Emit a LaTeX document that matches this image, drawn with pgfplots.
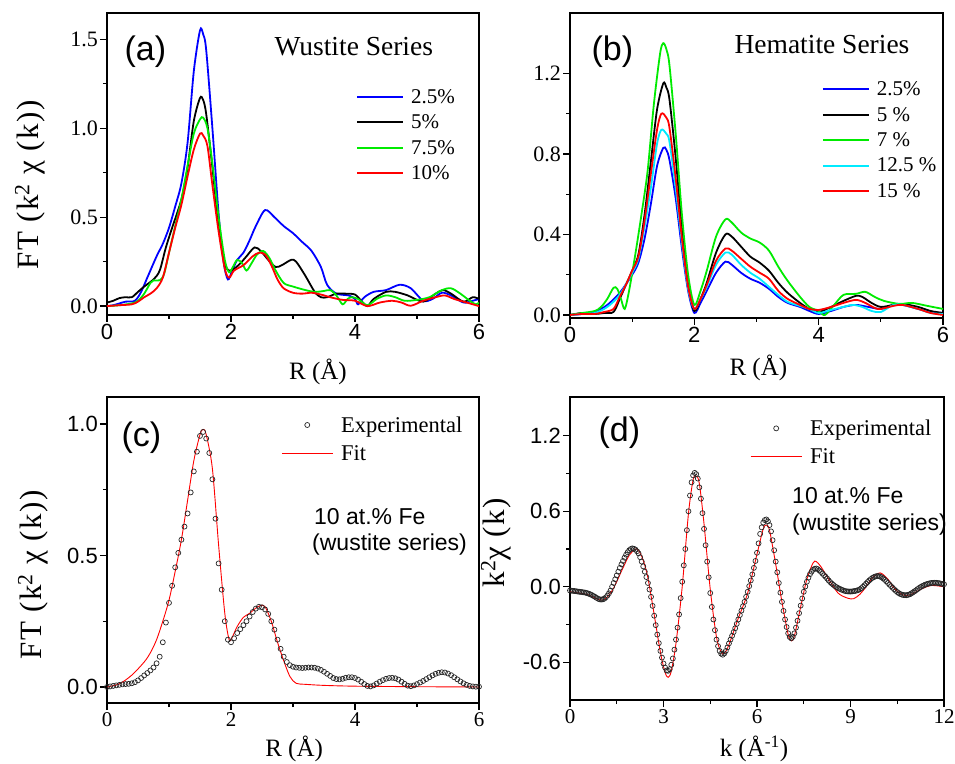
\documentclass[border=0pt]{standalone}
\usepackage{fontspec}
\setmainfont{Liberation Serif}
\setsansfont{Liberation Sans}
\usepackage{pgfplots}
\pgfplotsset{compat=1.18}
\definecolor{cblue}{RGB}{0,0,255}
\definecolor{cgreen}{RGB}{0,235,0}
\definecolor{ccyan}{RGB}{0,235,255}
\definecolor{cred}{RGB}{255,0,0}
\newcommand\fs[1]{\fontsize{#1}{#1}\selectfont}

\pgfplotsset{
  panel/.style={
    scale only axis, anchor=south west,
    tick align=outside, xtick pos=left, ytick pos=left,
    axis line style={line width=2pt},
    major tick length=7pt, minor tick length=4pt,
    tick style={line width=1.3pt,black},
    minor x tick num=1, minor y tick num=1,
    /pgf/number format/assume math mode=true,
    yticklabel style={/pgf/number format/fixed,/pgf/number format/fixed zerofill,/pgf/number format/precision=1,inner sep=2pt},
    xticklabel style={inner sep=2pt},
    ylabel style={anchor=center,font=\fs{31}\rmfamily\addfontfeatures{LetterSpace=5}},
    xlabel style={anchor=center,font=\fs{25}\rmfamily},
    every axis plot/.append style={smooth,tension=0.5},
  },
  linelegend/.style={
    legend style={draw=none,fill=none,anchor=north west,font=\fs{21}\rmfamily,
      legend cell align=left,row sep=6pt,
      /tikz/every odd column/.append style={column sep=5pt}},
    legend image code/.code={\draw[##1,line width=1.9pt] (0pt,0pt) -- (46pt,0pt);}},
  fitlegend/.style={
    legend style={draw=none,fill=none,anchor=north west,font=\fs{22.5}\rmfamily,
      legend cell align=left,row sep=7.6pt,
      /tikz/every odd column/.append style={column sep=6pt}},
    legend image code/.code={\draw[mark repeat=2,mark phase=2,##1] plot coordinates {(0pt,0pt) (25.5pt,0pt) (51pt,0pt)};}},
  curvew/.style={line width=1.8pt},
  expmarks/.style={only marks,mark=o,mark size=2.5pt,black!85,mark options={line width=0.7pt}},
}

\begin{document}
\begin{tikzpicture}[x=1pt,y=1pt]
\useasboundingbox (0,0) rectangle (955,763);

% (a) wustite series
\begin{axis}[panel, at={(107pt,448pt)}, width=372pt, height=302pt,
  xmin=0, xmax=6, ymin=-0.05, ymax=1.648,
  xtick={0,2,4,6}, ytick={0,0.5,1,1.5},
  xticklabel style={font=\fs{22}\sffamily}, yticklabel style={font=\fs{22}\rmfamily},
  xlabel={R (Å)}, ylabel={FT (k\textsuperscript{2} χ (k))},
  xlabel style={at={(axis description cs:0.567,-0.19)}},
  ylabel style={at={(axis description cs:-0.207,0.43)}},
  linelegend, legend style={at={(axis cs:3.97,1.243)}}]
\addplot[cblue,curvew] coordinates {(0,0.0) (0.1,0.005) (0.2,0.015) (0.3,0.025) (0.45,0.03) (0.55,0.08) (0.65,0.16) (0.8,0.28) (0.9,0.35) (1.0,0.44) (1.1,0.56) (1.2,0.69) (1.3,0.92) (1.4,1.32) (1.5,1.55) (1.55,1.53) (1.6,1.44) (1.7,1.0) (1.8,0.52) (1.88,0.25) (1.95,0.15) (2.02,0.2) (2.1,0.26) (2.2,0.3) (2.3,0.37) (2.4,0.45) (2.55,0.54) (2.7,0.5) (2.85,0.45) (3.0,0.41) (3.15,0.36) (3.3,0.31) (3.45,0.22) (3.55,0.12) (3.7,0.07) (3.9,0.06) (4.0,0.04) (4.05,0.01) (4.15,0.05) (4.3,0.08) (4.5,0.09) (4.72,0.12) (4.9,0.1) (5.1,0.03) (5.25,0.04) (5.4,0.075) (5.55,0.06) (5.75,0.02) (5.9,0.03) (6.0,0.04)};
\addlegendentry{2.5\%}
\addplot[black,curvew] coordinates {(0,0.02) (0.1,0.03) (0.2,0.045) (0.3,0.05) (0.4,0.05) (0.5,0.08) (0.6,0.11) (0.75,0.15) (0.85,0.2) (0.95,0.33) (1.05,0.44) (1.2,0.6) (1.3,0.78) (1.4,1.04) (1.5,1.17) (1.55,1.16) (1.6,1.08) (1.7,0.78) (1.8,0.45) (1.9,0.24) (1.97,0.2) (2.05,0.21) (2.15,0.24) (2.25,0.28) (2.38,0.33) (2.48,0.31) (2.6,0.26) (2.72,0.22) (2.82,0.23) (2.97,0.26) (3.05,0.25) (3.2,0.17) (3.35,0.08) (3.45,0.05) (3.55,0.05) (3.7,0.07) (3.85,0.07) (4.0,0.065) (4.1,0.03) (4.2,0.0) (4.3,0.04) (4.5,0.08) (4.65,0.08) (4.85,0.06) (5.1,0.025) (5.3,0.07) (5.42,0.09) (5.55,0.07) (5.75,0.025) (5.9,0.05) (6.0,0.04)};
\addlegendentry{5\%}
\addplot[cgreen,curvew] coordinates {(0,0.0) (0.2,0.005) (0.4,0.015) (0.5,0.03) (0.6,0.07) (0.7,0.13) (0.75,0.145) (0.85,0.145) (0.92,0.18) (1.0,0.3) (1.1,0.45) (1.2,0.6) (1.3,0.79) (1.4,0.97) (1.5,1.05) (1.55,1.06) (1.62,1.0) (1.7,0.8) (1.8,0.5) (1.9,0.26) (1.97,0.19) (2.03,0.22) (2.1,0.26) (2.18,0.24) (2.25,0.2) (2.33,0.24) (2.42,0.29) (2.52,0.31) (2.62,0.27) (2.72,0.2) (2.85,0.13) (3.0,0.11) (3.2,0.09) (3.35,0.08) (3.5,0.085) (3.6,0.09) (3.7,0.06) (3.8,0.01) (3.88,0.04) (3.95,0.05) (4.05,0.04) (4.2,0.005) (4.35,0.04) (4.5,0.06) (4.65,0.05) (4.8,0.03) (5.0,0.035) (5.2,0.05) (5.4,0.09) (5.55,0.1) (5.7,0.07) (5.85,0.03) (5.95,0.01) (6.0,0.02)};
\addlegendentry{7.5\%}
\addplot[cred,curvew] coordinates {(0,0.0) (0.2,0.005) (0.4,0.01) (0.5,0.025) (0.6,0.05) (0.7,0.07) (0.8,0.1) (0.9,0.16) (1.0,0.3) (1.1,0.44) (1.2,0.57) (1.3,0.73) (1.4,0.88) (1.5,0.97) (1.55,0.96) (1.62,0.9) (1.7,0.68) (1.8,0.42) (1.9,0.21) (1.97,0.16) (2.05,0.2) (2.2,0.23) (2.35,0.28) (2.45,0.3) (2.55,0.29) (2.65,0.23) (2.75,0.15) (2.85,0.1) (3.0,0.075) (3.15,0.07) (3.3,0.075) (3.45,0.065) (3.6,0.05) (3.8,0.035) (4.0,0.03) (4.2,0.0) (4.4,0.02) (4.6,0.03) (4.75,0.02) (4.9,0.002) (5.1,0.03) (5.3,0.05) (5.45,0.06) (5.6,0.04) (5.8,0.02) (6.0,0.0)};
\addlegendentry{10\%}
\end{axis}

% (b) hematite series
\begin{axis}[panel, at={(570pt,445pt)}, width=373pt, height=305pt,
  xmin=0, xmax=6, ymin=-0.015, ymax=1.5,
  xtick={0,2,4,6}, ytick={0,0.4,0.8,1.2},
  xticklabel style={font=\fs{22}\sffamily}, yticklabel style={font=\fs{22}\rmfamily},
  xlabel={R (Å)},
  xlabel style={at={(axis description cs:0.505,-0.165)}},
  linelegend, legend style={at={(axis cs:4.0,1.18)}}]
\addplot[cblue,curvew] coordinates {(0,0.0) (0.2,0.005) (0.4,0.015) (0.6,0.05) (0.8,0.11) (1.0,0.2) (1.1,0.26) (1.2,0.38) (1.3,0.55) (1.4,0.74) (1.5,0.83) (1.55,0.82) (1.6,0.77) (1.7,0.58) (1.8,0.33) (1.9,0.12) (2.0,0.01) (2.1,0.06) (2.2,0.12) (2.35,0.21) (2.5,0.265) (2.6,0.25) (2.75,0.21) (2.9,0.18) (3.05,0.16) (3.2,0.13) (3.35,0.09) (3.5,0.06) (3.7,0.04) (3.85,0.02) (4.0,0.005) (4.2,0.02) (4.4,0.04) (4.6,0.05) (4.8,0.04) (5.0,0.03) (5.2,0.05) (5.35,0.05) (5.6,0.03) (5.8,0.015) (6.0,0.01)};
\addlegendentry{2.5\%}
\addplot[black,curvew] coordinates {(0,0.0) (0.2,0.01) (0.4,0.005) (0.55,0.01) (0.7,0.015) (0.8,0.08) (0.9,0.15) (1.0,0.22) (1.1,0.3) (1.2,0.5) (1.3,0.76) (1.4,1.02) (1.5,1.15) (1.55,1.13) (1.6,1.07) (1.7,0.78) (1.8,0.43) (1.9,0.15) (2.0,0.02) (2.1,0.08) (2.2,0.16) (2.35,0.31) (2.5,0.4) (2.6,0.39) (2.75,0.34) (2.9,0.29) (3.05,0.26) (3.2,0.22) (3.35,0.16) (3.5,0.11) (3.7,0.06) (3.85,0.03) (4.0,0.015) (4.2,0.04) (4.4,0.07) (4.6,0.095) (4.7,0.09) (4.85,0.06) (5.0,0.04) (5.2,0.05) (5.35,0.055) (5.6,0.04) (5.8,0.02) (6.0,0.01)};
\addlegendentry{5 \%}
\addplot[cgreen,curvew] coordinates {(0,0.0) (0.2,0.01) (0.4,0.02) (0.5,0.04) (0.6,0.08) (0.7,0.135) (0.76,0.13) (0.82,0.08) (0.88,0.03) (0.95,0.12) (1.05,0.3) (1.15,0.5) (1.25,0.72) (1.35,1.05) (1.45,1.3) (1.5,1.35) (1.55,1.32) (1.6,1.24) (1.7,0.9) (1.8,0.5) (1.9,0.2) (2.0,0.05) (2.1,0.12) (2.2,0.22) (2.35,0.39) (2.5,0.475) (2.6,0.46) (2.75,0.41) (2.9,0.38) (3.05,0.36) (3.2,0.32) (3.35,0.24) (3.5,0.17) (3.7,0.09) (3.85,0.04) (4.0,0.02) (4.1,0.0) (4.25,0.05) (4.4,0.1) (4.6,0.105) (4.75,0.115) (4.9,0.09) (5.05,0.07) (5.3,0.055) (5.5,0.06) (5.75,0.045) (6.0,0.03)};
\addlegendentry{7 \%}
\addplot[ccyan,curvew] coordinates {(0,0.0) (0.2,0.005) (0.4,0.01) (0.6,0.04) (0.8,0.1) (1.0,0.21) (1.1,0.28) (1.2,0.44) (1.3,0.63) (1.4,0.85) (1.47,0.92) (1.55,0.9) (1.6,0.86) (1.7,0.63) (1.8,0.36) (1.9,0.13) (2.0,0.03) (2.1,0.08) (2.2,0.14) (2.35,0.25) (2.5,0.31) (2.6,0.3) (2.75,0.25) (2.9,0.21) (3.05,0.18) (3.2,0.14) (3.35,0.1) (3.5,0.065) (3.7,0.045) (3.85,0.03) (4.0,0.01) (4.2,0.025) (4.4,0.04) (4.55,0.05) (4.7,0.04) (4.85,0.02) (5.0,0.015) (5.2,0.05) (5.35,0.05) (5.6,0.03) (5.8,0.01) (6.0,0.005)};
\addlegendentry{12.5 \%}
\addplot[cred,curvew] coordinates {(0,0.0) (0.2,0.005) (0.4,0.005) (0.55,0.015) (0.7,0.03) (0.8,0.09) (0.9,0.15) (1.0,0.22) (1.1,0.29) (1.2,0.47) (1.3,0.7) (1.4,0.92) (1.47,1.0) (1.55,0.98) (1.6,0.93) (1.7,0.68) (1.8,0.38) (1.9,0.14) (2.0,0.03) (2.1,0.08) (2.2,0.15) (2.35,0.27) (2.5,0.33) (2.6,0.32) (2.75,0.28) (2.9,0.24) (3.05,0.21) (3.2,0.18) (3.35,0.12) (3.5,0.08) (3.7,0.05) (3.85,0.03) (4.0,0.025) (4.2,0.04) (4.4,0.06) (4.6,0.075) (4.75,0.06) (4.9,0.035) (5.0,0.03) (5.2,0.045) (5.35,0.05) (5.6,0.03) (5.8,0.01) (6.0,0.0)};
\addlegendentry{15 \%}
\end{axis}

% (c) FT fit, 10 at.% Fe
\begin{axis}[panel, at={(107pt,60pt)}, width=372pt, height=306pt,
  xmin=0, xmax=6, ymin=-0.061, ymax=1.103,
  xtick={0,2,4,6}, ytick={0,0.5,1},
  xticklabel style={font=\fs{21}\rmfamily}, yticklabel style={font=\fs{22}\sffamily},
  xlabel={R (Å)}, ylabel={FT (k\textsuperscript{2} χ (k))},
  xlabel style={at={(axis description cs:0.503,-0.15)}},
  ylabel style={at={(axis description cs:-0.199,0.418)}},
  fitlegend, legend style={at={(axis cs:2.76,1.045)}}]
\addplot[expmarks] table {
0.00 0.000
0.05 0.002
0.10 0.004
0.15 0.006
0.20 0.008
0.25 0.010
0.30 0.011
0.35 0.012
0.40 0.014
0.45 0.018
0.50 0.025
0.55 0.034
0.60 0.044
0.65 0.053
0.70 0.063
0.75 0.074
0.80 0.090
0.85 0.115
0.90 0.170
0.95 0.245
1.00 0.320
1.05 0.385
1.10 0.455
1.15 0.510
1.20 0.560
1.25 0.610
1.30 0.660
1.35 0.740
1.40 0.820
1.45 0.895
1.50 0.955
1.55 0.970
1.60 0.945
1.65 0.890
1.70 0.790
1.75 0.640
1.80 0.470
1.85 0.370
1.90 0.250
1.95 0.180
2.00 0.170
2.05 0.185
2.10 0.205
2.15 0.220
2.20 0.235
2.25 0.250
2.30 0.268
2.35 0.285
2.40 0.298
2.45 0.305
2.50 0.303
2.55 0.295
2.60 0.278
2.65 0.250
2.70 0.218
2.75 0.180
2.80 0.145
2.85 0.115
2.90 0.095
2.95 0.083
3.00 0.077
3.05 0.074
3.10 0.073
3.15 0.072
3.20 0.073
3.25 0.074
3.30 0.074
3.35 0.073
3.40 0.070
3.45 0.065
3.50 0.058
3.55 0.050
3.60 0.042
3.65 0.034
3.70 0.030
3.75 0.029
3.80 0.031
3.85 0.035
3.90 0.037
3.95 0.037
4.00 0.034
4.05 0.028
4.10 0.020
4.15 0.011
4.20 0.004
4.25 0.002
4.30 0.006
4.35 0.013
4.40 0.020
4.45 0.026
4.50 0.031
4.55 0.034
4.60 0.035
4.65 0.033
4.70 0.028
4.75 0.020
4.80 0.012
4.85 0.005
4.90 0.003
4.95 0.006
5.00 0.011
5.05 0.017
5.10 0.023
5.15 0.030
5.20 0.037
5.25 0.044
5.30 0.050
5.35 0.054
5.40 0.056
5.45 0.055
5.50 0.051
5.55 0.045
5.60 0.037
5.65 0.029
5.70 0.021
5.75 0.014
5.80 0.008
5.85 0.004
5.90 0.002
5.95 0.001
6.00 0.001
};
\addlegendentry{Experimental}
\addplot[cred,line width=0.9pt] coordinates {(0,0.0) (0.2,0.012) (0.4,0.045) (0.6,0.095) (0.7,0.13) (0.8,0.18) (0.9,0.25) (1.0,0.33) (1.1,0.44) (1.2,0.56) (1.3,0.71) (1.4,0.86) (1.5,0.96) (1.55,0.98) (1.6,0.96) (1.7,0.83) (1.8,0.54) (1.9,0.28) (1.97,0.18) (2.02,0.19) (2.1,0.23) (2.2,0.265) (2.3,0.28) (2.4,0.3) (2.48,0.31) (2.55,0.305) (2.65,0.25) (2.75,0.17) (2.85,0.1) (2.95,0.04) (3.05,0.014) (3.2,0.01) (3.5,0.006) (4.0,0.003) (5.0,0.001) (6.0,0.0)};
\addlegendentry{Fit}
\end{axis}

% (d) k-space fit
\begin{axis}[panel, at={(570pt,63pt)}, width=374pt, height=303pt,
  xmin=0, xmax=12, ymin=-0.9, ymax=1.508,
  xtick={0,3,6,9,12}, ytick={-0.6,0,0.6,1.2},
  xticklabel style={font=\fs{21}\rmfamily}, yticklabel style={font=\fs{22}\sffamily},
  xlabel={k (Å\textsuperscript{-1})}, ylabel={k\textsuperscript{2}χ (k)},
  xlabel style={at={(axis description cs:0.492,-0.16)}},
  ylabel style={at={(axis description cs:-0.198,0.52)}},
  fitlegend, legend style={at={(axis cs:5.68,1.36)}}]
\addplot[expmarks] table {
0.00 -0.030
0.05 -0.031
0.10 -0.033
0.15 -0.034
0.20 -0.036
0.25 -0.038
0.30 -0.040
0.35 -0.041
0.40 -0.043
0.45 -0.045
0.50 -0.047
0.55 -0.051
0.60 -0.055
0.65 -0.060
0.70 -0.066
0.75 -0.073
0.80 -0.080
0.85 -0.088
0.90 -0.095
0.95 -0.100
1.00 -0.102
1.05 -0.100
1.10 -0.095
1.15 -0.084
1.20 -0.070
1.25 -0.052
1.30 -0.030
1.35 0.000
1.40 0.030
1.45 0.060
1.50 0.090
1.55 0.120
1.60 0.150
1.65 0.178
1.70 0.205
1.75 0.231
1.80 0.255
1.85 0.274
1.90 0.290
1.95 0.300
2.00 0.305
2.05 0.302
2.10 0.295
2.15 0.282
2.20 0.265
2.25 0.235
2.30 0.200
2.35 0.162
2.40 0.120
2.45 0.077
2.50 0.030
2.55 -0.022
2.60 -0.080
2.65 -0.152
2.70 -0.230
2.75 -0.305
2.80 -0.380
2.85 -0.448
2.90 -0.510
2.95 -0.563
3.00 -0.610
3.05 -0.642
3.10 -0.665
3.15 -0.668
3.20 -0.655
3.25 -0.620
3.30 -0.570
3.35 -0.500
3.40 -0.420
3.45 -0.325
3.50 -0.220
3.55 -0.090
3.60 0.040
3.65 0.170
3.70 0.300
3.75 0.450
3.80 0.600
3.85 0.725
3.90 0.830
3.95 0.885
4.00 0.905
4.05 0.895
4.10 0.860
4.15 0.790
4.20 0.700
4.25 0.585
4.30 0.460
4.35 0.330
4.40 0.200
4.45 0.075
4.50 -0.050
4.55 -0.160
4.60 -0.260
4.65 -0.345
4.70 -0.420
4.75 -0.472
4.80 -0.510
4.85 -0.532
4.90 -0.540
4.95 -0.530
5.00 -0.510
5.05 -0.482
5.10 -0.450
5.15 -0.420
5.20 -0.390
5.25 -0.360
5.30 -0.330
5.35 -0.295
5.40 -0.260
5.45 -0.225
5.50 -0.190
5.55 -0.155
5.60 -0.120
5.65 -0.080
5.70 -0.040
5.75 0.005
5.80 0.050
5.85 0.098
5.90 0.150
5.95 0.205
6.00 0.270
6.05 0.345
6.10 0.420
6.15 0.472
6.20 0.510
6.25 0.530
6.30 0.535
6.35 0.520
6.40 0.490
6.45 0.440
6.50 0.370
6.55 0.290
6.60 0.200
6.65 0.115
6.70 0.030
6.75 -0.047
6.80 -0.120
6.85 -0.192
6.90 -0.260
6.95 -0.320
7.00 -0.370
7.05 -0.400
7.10 -0.410
7.15 -0.398
7.20 -0.370
7.25 -0.325
7.30 -0.270
7.35 -0.210
7.40 -0.150
7.45 -0.093
7.50 -0.040
7.55 0.002
7.60 0.040
7.65 0.072
7.70 0.100
7.75 0.120
7.80 0.135
7.85 0.143
7.90 0.145
7.95 0.140
8.00 0.130
8.05 0.118
8.10 0.105
8.15 0.092
8.20 0.080
8.25 0.065
8.30 0.050
8.35 0.037
8.40 0.025
8.45 0.015
8.50 0.005
8.55 -0.003
8.60 -0.010
8.65 -0.016
8.70 -0.022
8.75 -0.027
8.80 -0.032
8.85 -0.035
8.90 -0.037
8.95 -0.038
9.00 -0.038
9.05 -0.037
9.10 -0.035
9.15 -0.033
9.20 -0.030
9.25 -0.026
9.30 -0.020
9.35 -0.011
9.40 0.000
9.45 0.012
9.50 0.025
9.55 0.038
9.60 0.050
9.65 0.061
9.70 0.070
9.75 0.077
9.80 0.082
9.85 0.085
9.90 0.085
9.95 0.081
10.00 0.075
10.05 0.066
10.10 0.055
10.15 0.043
10.20 0.030
10.25 0.017
10.30 0.005
10.35 -0.008
10.40 -0.020
10.45 -0.032
10.50 -0.042
10.55 -0.051
10.60 -0.058
10.65 -0.063
10.70 -0.066
10.75 -0.067
10.80 -0.067
10.85 -0.064
10.90 -0.060
10.95 -0.053
11.00 -0.045
11.05 -0.037
11.10 -0.028
11.15 -0.019
11.20 -0.010
11.25 -0.002
11.30 0.005
11.35 0.011
11.40 0.017
11.45 0.021
11.50 0.025
11.55 0.028
11.60 0.030
11.65 0.031
11.70 0.032
11.75 0.031
11.80 0.030
11.85 0.028
11.90 0.025
11.95 0.022
12.00 0.020
};
\addlegendentry{Experimental}
\addplot[cred,line width=0.9pt] coordinates {(0,-0.04) (0.3,-0.05) (0.6,-0.065) (0.9,-0.1) (1.05,-0.105) (1.2,-0.08) (1.4,-0.01) (1.7,0.15) (1.9,0.25) (2.1,0.3) (2.2,0.29) (2.35,0.21) (2.5,0.07) (2.7,-0.22) (2.9,-0.52) (3.05,-0.68) (3.15,-0.72) (3.25,-0.67) (3.4,-0.45) (3.6,0.0) (3.8,0.58) (3.95,0.85) (4.05,0.88) (4.15,0.82) (4.3,0.5) (4.5,-0.02) (4.7,-0.4) (4.85,-0.52) (4.95,-0.53) (5.1,-0.46) (5.4,-0.25) (5.7,-0.05) (6.0,0.26) (6.2,0.46) (6.3,0.49) (6.4,0.45) (6.6,0.18) (6.8,-0.12) (7.0,-0.38) (7.1,-0.43) (7.2,-0.39) (7.4,-0.16) (7.6,0.06) (7.8,0.19) (7.9,0.2) (8.05,0.16) (8.3,0.06) (8.6,-0.05) (8.9,-0.09) (9.1,-0.095) (9.3,-0.06) (9.5,0.0) (9.7,0.07) (9.95,0.11) (10.2,0.06) (10.4,-0.01) (10.6,-0.055) (10.8,-0.07) (11.0,-0.055) (11.3,-0.015) (11.6,0.01) (12.0,0.0)};
\addlegendentry{Fit}
\end{axis}

% panel letters and notes
\node[anchor=west,font=\fs{34}\sffamily] at (121,711) {(a)};
\node[anchor=west,font=\fs{34}\sffamily] at (588,711) {(b)};
\node[anchor=west,font=\fs{34}\sffamily] at (118,325) {(c)};
\node[anchor=west,font=\fs{34}\sffamily] at (595,330) {(d)};
\node[anchor=west,font=\fs{27.5}\rmfamily] at (271,716) {Wustite Series};
\node[anchor=west,font=\fs{27.5}\rmfamily] at (731,718) {Hematite Series};
\node[anchor=west,font=\fs{23}\sffamily,inner sep=0pt] at (314,246) {10 at.\% Fe};
\node[anchor=west,font=\fs{23}\sffamily,inner sep=0pt] at (312,218) {(wustite series)};
\node[anchor=west,font=\fs{23}\sffamily,inner sep=0pt] at (792,267) {10 at.\% Fe};
\node[anchor=west,font=\fs{23}\sffamily,inner sep=0pt] at (792,238) {(wustite series)};
\end{tikzpicture}
\end{document}
